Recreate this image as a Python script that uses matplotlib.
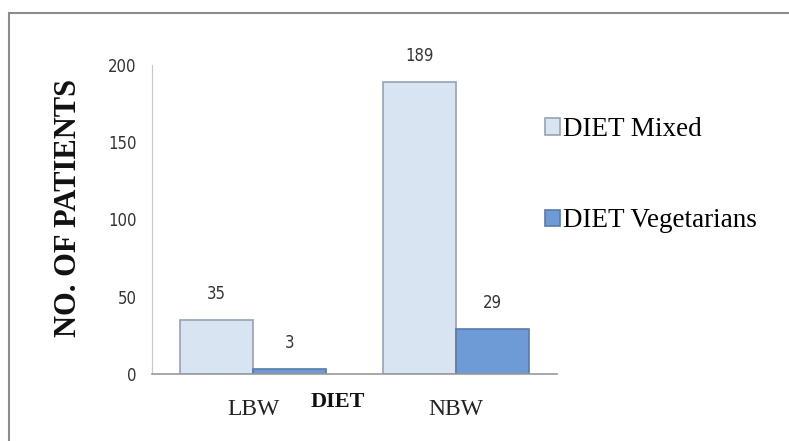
import matplotlib
matplotlib.use('Agg')
import matplotlib.pyplot as plt
import numpy as np
from matplotlib.patches import Rectangle

categories = ["LBW", "NBW"]
series_names = ["DIET Mixed", "DIET Vegetarians"]
mixed = [35, 189]
vegetarians = [3, 29]

SERIF = ['Liberation Serif', 'DejaVu Serif']
NUMS = ['DejaVu Sans']

W, H = 789, 441
fig = plt.figure(figsize=(W / 100, H / 100), dpi=100)
fig.patch.set_facecolor('white')

# outer frame (top/left edges visible)
fig.patches.append(Rectangle((9 / W, -0.1), 1.2, 1 - 13 / H + 0.1,
                             transform=fig.transFigure, fill=False,
                             edgecolor='#8c8c8c', linewidth=1.5))

ax = fig.add_axes([152 / W, 1 - 374 / H, (557 - 152) / W, (374 - 65) / H])

x = np.arange(len(categories))
w = 0.36
b1 = ax.bar(x - w / 2, mixed, w, color='#d8e4f1', edgecolor='#95a3b5', linewidth=1.2,
            label=series_names[0])
b2 = ax.bar(x + w / 2, vegetarians, w, color='#6e9ad6', edgecolor='#5a7aa8', linewidth=1.2,
            label=series_names[1])

for bars, vals in [(b1, mixed), (b2, vegetarians)]:
    for bar, v in zip(bars, vals):
        ax.annotate(str(v), (bar.get_x() + bar.get_width() / 2, v),
                    xytext=(0, 19), textcoords='offset points', ha='center', va='center',
                    fontsize=12, family=NUMS, fontstretch='condensed', color='#333333')

ax.set_xlim(-0.5, 1.5)
ax.set_ylim(0, 200)
ax.set_yticks([0, 50, 100, 150, 200])
ax.set_xticks(x)
ax.set_xticklabels(categories, family=SERIF, fontsize=17, color='#222222')
for lab in ax.get_yticklabels():
    lab.set_family(NUMS)
    lab.set_fontstretch('condensed')
    lab.set_fontsize(12)
    lab.set_color('#333333')
ax.tick_params(axis='both', length=0)
ax.tick_params(axis='y', pad=11)
ax.tick_params(axis='x', pad=18)

for s in ['top', 'right']:
    ax.spines[s].set_visible(False)
ax.spines['left'].set_color('#c8c8c8')
ax.spines['bottom'].set_color('#9a9a9a')
ax.spines['bottom'].set_linewidth(1.2)

ax.set_ylabel('NO. OF PATIENTS', family=SERIF, fontsize=22, fontweight='bold', color='#111111')
ax.yaxis.label.set_va('center')
ax.yaxis.set_label_coords((68 - 152) / 405, (374 - 208) / 309)

fig.text(338 / W, 1 - 402 / H, 'DIET', family=SERIF, fontsize=16, fontweight='bold',
         ha='center', va='center', color='#111111')

leg = fig.legend(handles=[b1, b2], labels=series_names, loc='upper left',
                 bbox_to_anchor=(545 / W, 1 - 117 / H), frameon=False,
                 borderpad=0, borderaxespad=0,
                 prop={'family': SERIF, 'size': 19.5}, handlelength=0.56, handleheight=0.55,
                 handletextpad=0.12, labelspacing=2.45)

fig.savefig('out.png', dpi=100, facecolor='white')
